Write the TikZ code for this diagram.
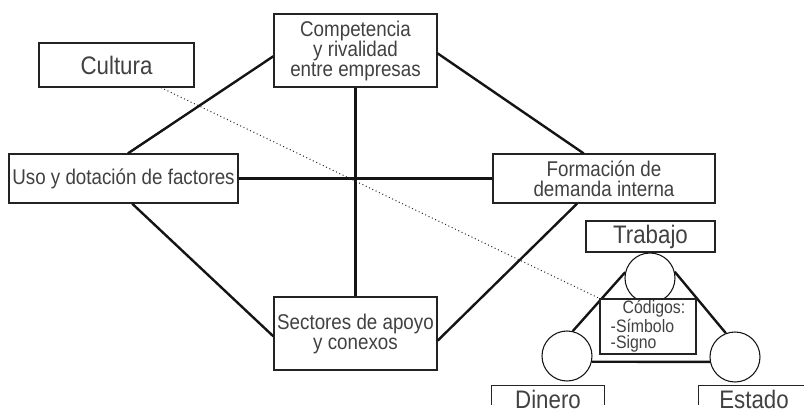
\documentclass[tikz,border=0pt]{standalone}
\usepackage{fontspec}
\setmainfont{Liberation Sans}[FakeStretch=0.88]

\tikzset{every picture/.style={line width=0.75pt}}
\tikzset{
  caja/.style={draw={rgb, 255:red, 35; green, 35; blue, 35 }, line width=0.9pt, fill=white, inner sep=0pt, align=center,
    text={rgb, 255:red, 65; green, 65; blue, 65 }, font=\fontsize{16}{15}\selectfont},
  cajagrande/.style={caja, font=\fontsize{19}{20}\selectfont},
  cajaabierta/.style={cajagrande, draw=none},
  cajachica/.style={caja, align=left, font=\fontsize{13.5}{12.2}\selectfont},
  borde/.style={line width=0.9pt, draw={rgb, 255:red, 35; green, 35; blue, 35 }},
  circulo/.style={draw={rgb, 255:red, 20; green, 20; blue, 20 }, circle, line width=0.8pt, fill=white, minimum size=37.5pt, inner sep=0pt},
  enlace/.style={line width=1.8pt, draw={rgb, 255:red, 20; green, 20; blue, 20 }},
  punteado/.style={dotted, line width=0.75pt, draw={rgb, 255:red, 40; green, 40; blue, 40 }}
}

\begin{document}
\begin{tikzpicture}[x=0.75pt,y=0.75pt,yscale=-1,xscale=1]
	\path[use as bounding box] (0,0) rectangle (804,412);

	% Text Node
	\node[cajagrande, minimum width=116.25pt, minimum height=33pt] (cultura) at (116.5,65) {Cultura};
	% Text Node
	\node[caja, minimum width=122.25pt, minimum height=54.75pt] (compet) at (355.5,50.5) {Competencia\\y rivalidad\\entre empresas};
	% Text Node
	\node[caja, minimum width=171.75pt, minimum height=36.75pt] (usofac) at (123.5,178.5) {Uso y dotación de factores};
	% Text Node
	\node[caja, minimum width=166.5pt, minimum height=36.75pt] (formdem) at (604,178.5) {Formación de\\demanda interna};
	% Text Node
	\node[caja, minimum width=122.25pt, minimum height=54.75pt] (sectores) at (355.5,333.5) {Sectores de apoyo\\y conexos};

	%Straight Lines
	\draw[enlace] (compet.south) -- (sectores.north) ;
	%Straight Lines
	\draw[enlace] (usofac.east) -- (formdem.west) ;
	%Straight Lines
	\draw[enlace] (usofac.80) -- (compet.184) ;
	%Straight Lines
	\draw[enlace] (compet.358) -- (formdem.129) ;
	%Straight Lines
	\draw[enlace] (usofac.289) -- (sectores.182) ;
	%Straight Lines
	\draw[enlace] (sectores.355) -- (formdem.223) ;

	% Text Node
	\node[cajagrande, minimum width=96.75pt, minimum height=23.25pt] (trabajo) at (650.5,236.5) {Trabajo};
	% Text Node
	\node[cajaabierta, minimum width=84pt, minimum height=19.5pt] (dinero) at (548,399) {Dinero};
	\draw[borde] ([yshift=-6pt]dinero.south west) -- (dinero.north west) -- (dinero.north east) -- ([yshift=-6pt]dinero.south east) ;
	% Text Node
	\node[cajaabierta, minimum width=82.5pt, minimum height=19.5pt] (estado) at (754,399) {Estado};
	\draw[borde] ([yshift=-6pt]estado.south west) -- (estado.north west) -- (estado.north east) -- ([yshift=-6pt]estado.south east) ;

	%Shape: Circle
	\node[circulo] (circtrab) at (650,278) {};
	%Shape: Circle
	\node[circulo] (circdin) at (567,356) {};
	%Shape: Circle
	\node[circulo] (circest) at (735,357) {};

	%Straight Lines
	\draw[enlace] (circdin.77) -- (circtrab.167) ;
	%Straight Lines
	\draw[enlace] (circtrab.14) -- (circest.111) ;
	%Straight Lines
	\draw[enlace] (circdin.-13) -- (circest.191) ;

	% Text Node
	\node[cajachica, minimum width=72pt, minimum height=41.25pt] (codigos) at (648,326.5) {\hspace*{9pt}Códigos:\\-Símbolo\\-Signo};

	%Straight Lines
	\draw[punteado] (cultura.333) -- (codigos.north west) ;
\end{tikzpicture}
\end{document}
